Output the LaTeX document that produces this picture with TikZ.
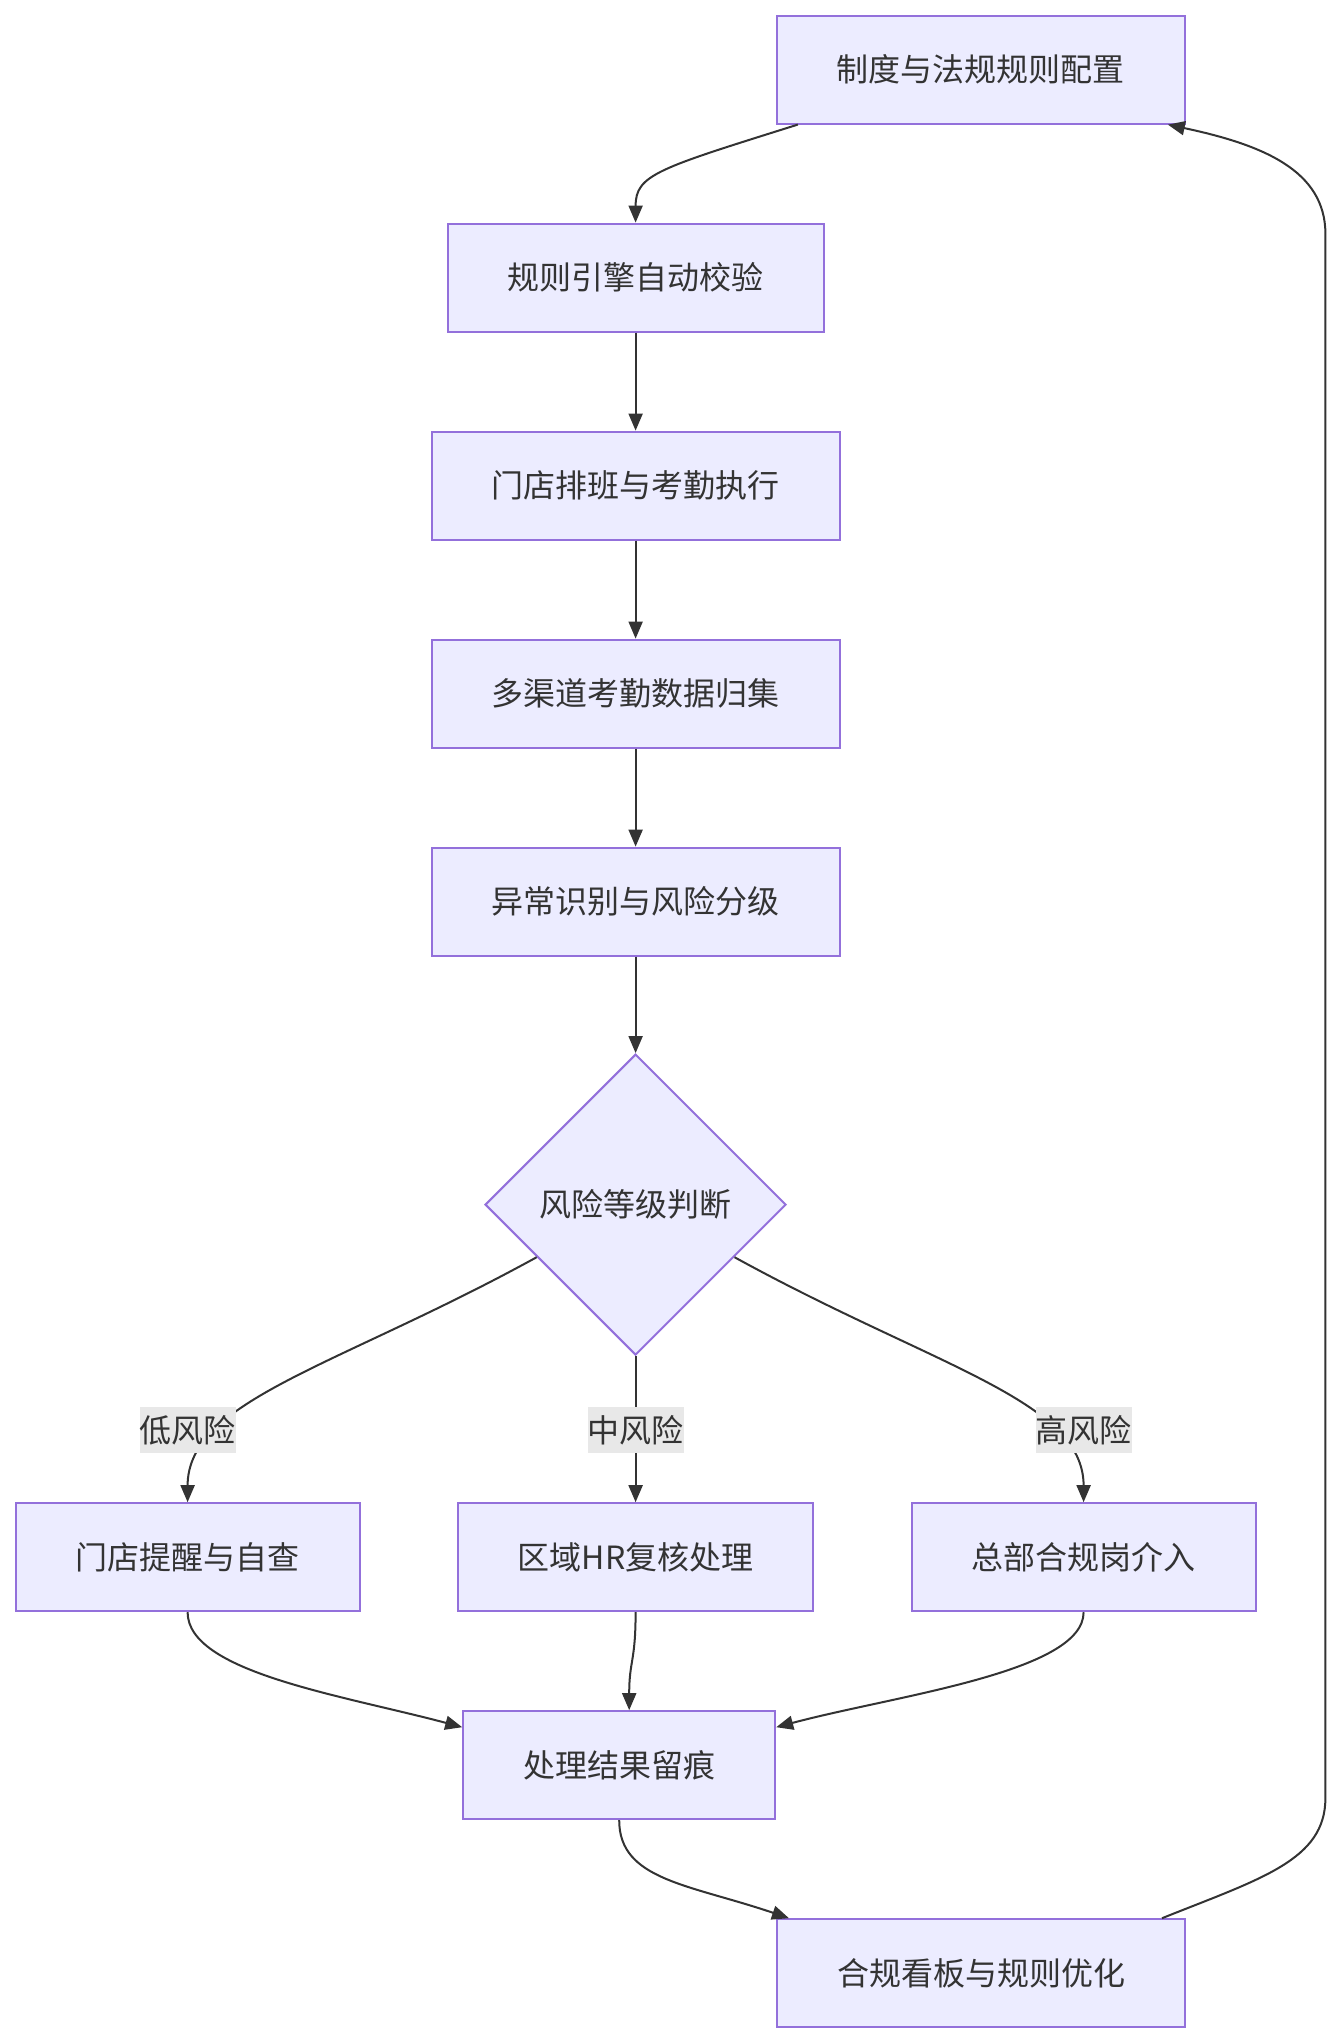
\documentclass[tikz,border=0pt]{standalone}
\usepackage{fontspec}
\setmainfont{Noto Sans CJK SC}
\usepackage{xcolor}
\usepackage{tikz}
\usetikzlibrary{shapes.geometric,arrows.meta}

\definecolor{nodefill}{HTML}{ECECFF}
\definecolor{nodeline}{HTML}{9370DB}
\definecolor{edgegray}{HTML}{333333}
\definecolor{lblgray}{HTML}{E8E8E8}

\begin{document}
\begin{tikzpicture}[x=1pt, y=1pt, node distance=104pt]
    \tikzstyle{proc} = [rectangle, minimum height=54pt, inner xsep=30pt, inner ysep=0pt, text centered, draw=nodeline, fill=nodefill, line width=1pt, text=edgegray, font=\fontsize{16}{19}\selectfont]
    \tikzstyle{decision} = [diamond, aspect=1, minimum width=150.5pt, minimum height=150.5pt, inner sep=0pt, text centered, draw=nodeline, fill=nodefill, line width=1pt, text=edgegray, font=\fontsize{16}{19}\selectfont]
    \tikzstyle{lbl} = [rectangle, fill=lblgray, inner sep=0pt, minimum height=22.8pt, text=edgegray, font=\fontsize{16}{19}\selectfont]
    \tikzstyle{arrow} = [line width=1pt, draw=edgegray, ->, >={Triangle[length=8.5pt,width=7pt]}]

    \useasboundingbox (0,0) rectangle (670.5,-1022);

    \node (rulecfg) [proc] at (490.4,-34.8) {制度与法规规则配置};
    \node (engine) [proc, below of=rulecfg, xshift=-172.6pt] {规则引擎自动校验};
    \node (sched) [proc, below of=engine] {门店排班与考勤执行};
    \node (collect) [proc, below of=sched] {多渠道考勤数据归集};
    \node (detect) [proc, below of=collect] {异常识别与风险分级};
    \node (judge) [decision, below of=detect, node distance=151.5pt] {风险等级判断};
    \node (midrisk) [proc, below of=judge, node distance=176.3pt] {区域HR复核处理};
    \node (lowrisk) [proc, left of=midrisk, node distance=224pt] {门店提醒与自查};
    \node (highrisk) [proc, right of=midrisk, node distance=224pt] {总部合规岗介入};
    \node (trace) [proc, below of=midrisk, xshift=-8.2pt] {处理结果留痕};
    \node (board) [proc, below of=trace, xshift=180.9pt] {合规看板与规则优化};

    \draw [arrow] ([xshift=11pt]rulecfg.south west) .. controls +(-70,-22) and +(0,24) .. (engine.north);
    \draw [arrow] (engine) -- (sched);
    \draw [arrow] (sched) -- (collect);
    \draw [arrow] (collect) -- (detect);
    \draw [arrow] (detect) -- (judge);
    \draw [arrow] (judge.208) .. controls +(-100,-55) and +(0,51) .. (lowrisk.north);
    \draw [arrow] (judge) -- (midrisk);
    \draw [arrow] (judge.332) .. controls +(100,-55) and +(0,51) .. (highrisk.north);
    \draw [arrow] (lowrisk.south) .. controls +(0,-30) and +(-60,16) .. ([yshift=-8.5pt]trace.north west);
    \draw [arrow] (midrisk.south) .. controls +(0,-25) and +(0,25) .. ([xshift=5pt]trace.north);
    \draw [arrow] (highrisk.south) .. controls +(0,-30) and +(60,16) .. ([yshift=-8.5pt]trace.north east);
    \draw [arrow] (trace.south) .. controls +(0,-30) and +(-50,17) .. ([xshift=6.5pt]board.north west);
    \draw [arrow] ([xshift=-12pt]board.north east) .. controls +(50,20) and +(0,-31) .. (662.7,-899) -- (662.7,-117) .. controls +(0,32) and +(47,-10) .. ([xshift=-9pt]rulecfg.south east);

    \node (lowlbl) [lbl, above of=lowrisk, node distance=63.5pt] {低风险};
    \node (midlbl) [lbl, above of=midrisk, node distance=63.5pt] {中风险};
    \node (highlbl) [lbl, above of=highrisk, node distance=63.5pt] {高风险};
\end{tikzpicture}
\end{document}
